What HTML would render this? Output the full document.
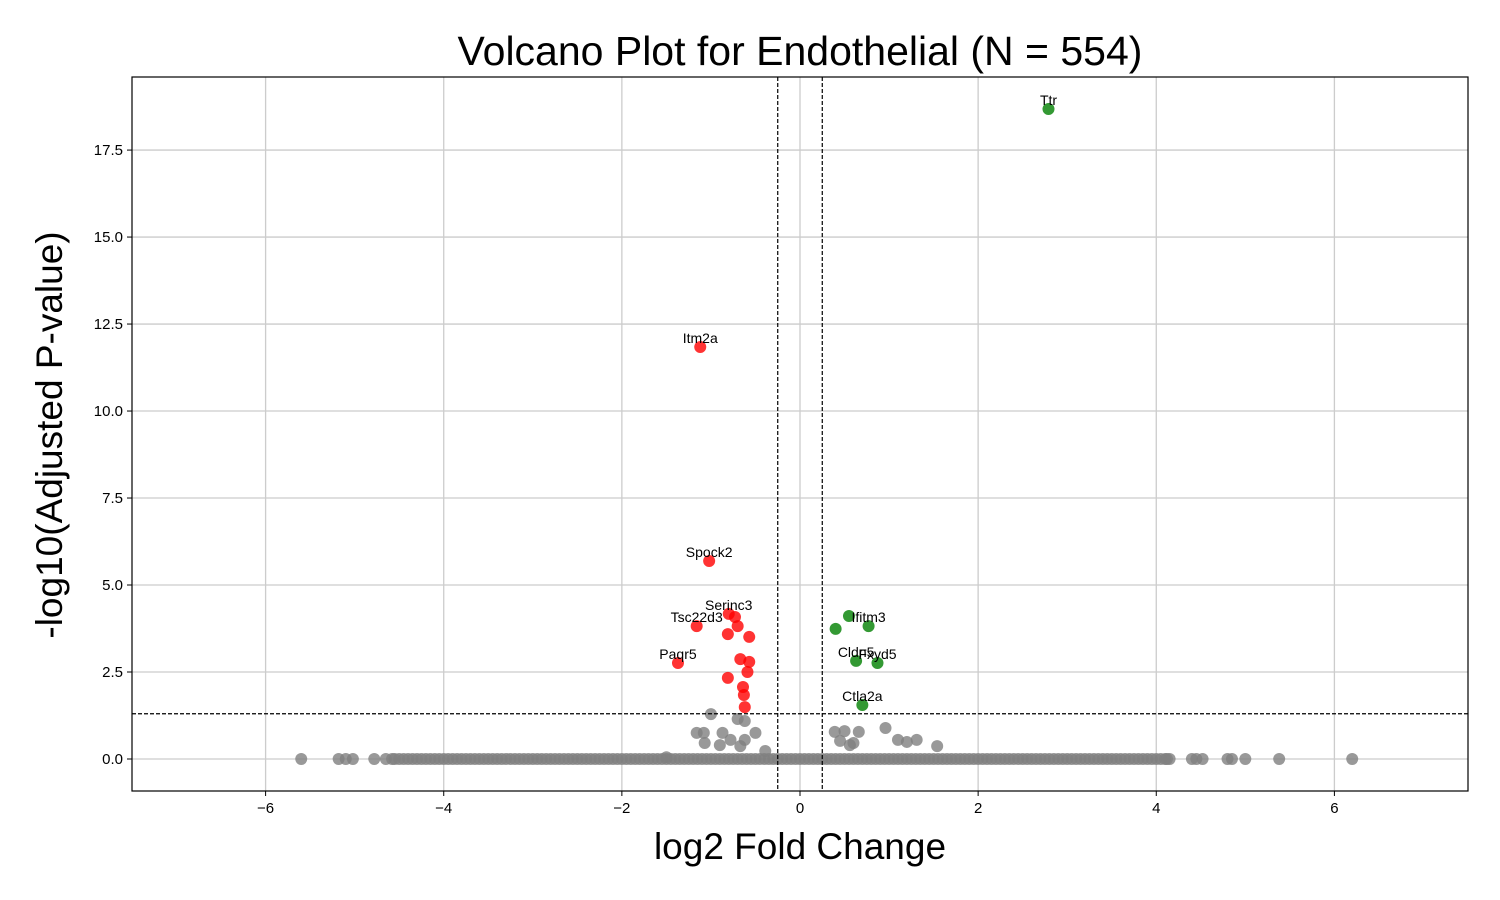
<!DOCTYPE html>
<html><head><meta charset="utf-8"><style>
html,body{margin:0;padding:0;background:#fff;}
svg{display:block;font-family:"Liberation Sans",Arial,sans-serif;}
</style></head><body>
<svg id="chart" width="1500" height="900"></svg>
<script>
const grayX=[-5.6,-5.18,-5.1,-5.02,-4.78,-4.65,-4.58,-4.5,-4.4,-4.3,-4.2,-4.1,-4.0,-3.9,-3.8,-3.7,-3.6,-3.5,-3.4,-3.3,-3.2,-3.1,-3.0,-2.9,-2.8,-2.7,-2.6,-2.5,-2.4,-2.3,-2.2,-2.1,-2.0,-1.9,-1.8,-1.7,-1.6,-1.5,-1.4,-1.3,-1.2,-1.1,-1.0,-0.9,-0.8,-0.7,-0.6,-0.5,-0.4,-0.3,-0.2,-0.1,0.0,0.1,0.2,0.3,0.4,0.5,0.6,0.7,0.8,0.9,1.0,1.1,1.2,1.3,1.4,1.5,1.6,1.7,1.8,1.9,2.0,2.1,2.2,2.3,2.4,2.5,2.6,2.7,2.8,2.9,3.0,3.1,3.2,3.3,3.4,3.5,3.6,3.7,3.8,3.9,4.0,4.1,4.15,4.4,4.45,4.52,4.8,4.85,5.0,5.38,6.2,
-4.55,-4.45,-4.35,-4.25,-4.15,-4.05,-3.95,-3.85,-3.75,-3.65,-3.55,-3.45,-3.35,-3.25,-3.15,-3.05,-2.95,-2.85,-2.75,-2.65,-2.55,-2.45,-2.35,-2.25,-2.15,-2.05,-1.95,-1.85,-1.75,-1.65,-1.55,-1.45,-1.35,-1.25,-1.15,-1.05,-0.95,-0.85,-0.75,-0.65,-0.55,-0.45,-0.35,-0.25,-0.15,-0.05,0.05,0.15,0.25,0.35,0.45,0.55,0.65,0.75,0.85,0.95,1.05,1.15,1.25,1.35,1.45,1.55,1.65,1.75,1.85,1.95,2.05,2.15,2.25,2.35,2.45,2.55,2.65,2.75,2.85,2.95,3.05,3.15,3.25,3.35,3.45,3.55,3.65,3.75,3.85,3.95,4.05,4.12,
-1.0,-0.7,-0.62,-1.16,-1.08,-0.87,-0.5,-1.07,-0.9,-0.67,-0.78,-0.62,0.39,0.5,0.45,0.6,0.66,0.96,1.1,1.2,1.31,1.54,-0.39,-1.5,0.56];
const grayY=[0,0,0,0,0,0,0,0,0,0,0,0,0,0,0,0,0,0,0,0,0,0,0,0,0,0,0,0,0,0,0,0,0,0,0,0,0,0,0,0,0,0,0,0,0,0,0,0,0,0,0,0,0,0,0,0,0,0,0,0,0,0,0,0,0,0,0,0,0,0,0,0,0,0,0,0,0,0,0,0,0,0,0,0,0,0,0,0,0,0,0,0,0,0,0,0,0,0,0,0,0,0,0,
0,0,0,0,0,0,0,0,0,0,0,0,0,0,0,0,0,0,0,0,0,0,0,0,0,0,0,0,0,0,0,0,0,0,0,0,0,0,0,0,0,0,0,0,0,0,0,0,0,0,0,0,0,0,0,0,0,0,0,0,0,0,0,0,0,0,0,0,0,0,0,0,0,0,0,0,0,0,0,0,0,0,0,0,0,0,0,0,
1.29,1.15,1.09,0.75,0.75,0.75,0.75,0.46,0.40,0.37,0.55,0.55,0.78,0.8,0.52,0.46,0.78,0.89,0.55,0.49,0.55,0.37,0.23,0.05,0.4];
const redX=[-1.12,-1.02,-1.16,-1.37,-0.80,-0.73,-0.70,-0.81,-0.57,-0.67,-0.57,-0.59,-0.81,-0.64,-0.63,-0.62];
const redY=[11.84,5.69,3.82,2.76,4.17,4.08,3.82,3.59,3.51,2.87,2.79,2.5,2.33,2.07,1.84,1.49];
const redLabels=["Itm2a","Spock2","Tsc22d3","Paqr5","Serinc3","","","","","","","","","","",""];
const greenX=[2.79,0.55,0.40,0.77,0.63,0.87,0.70];
const greenY=[18.68,4.11,3.74,3.82,2.82,2.76,1.55];
const greenLabels=["Ttr","","","Ifitm3","Cldn5","Fxyd5","Ctla2a"];
const xTicks=[-6,-4,-2,0,2,4,6];
const yTicks=[0,2.5,5,7.5,10,12.5,15,17.5];
const yTickLabels=["0.0","2.5","5.0","7.5","10.0","12.5","15.0","17.5"];

const L=132,R=1468,T=77,B=791, xmin=-7.5,xmax=7.5,ymin=-0.92,ymax=19.6;
const sx=v=>L+(v-xmin)/(xmax-xmin)*(R-L);
const sy=v=>B-(v-ymin)/(ymax-ymin)*(B-T);
const svg=document.getElementById('chart');
const NS='http://www.w3.org/2000/svg';
function mk(tag,attrs,parent){const e=document.createElementNS(NS,tag);for(const k in attrs)e.setAttribute(k,attrs[k]);(parent||svg).appendChild(e);return e;}

xTicks.forEach(t=>{const l=mk('line',{x1:sx(t),x2:sx(t),y1:T,y2:B,stroke:'#cccccc','stroke-width':1.3});

});
yTicks.forEach(t=>{const l=mk('line',{x1:L,x2:R,y1:sy(t),y2:sy(t),stroke:'#cccccc','stroke-width':1.3});

});

function pts(xs,ys,color,name){xs.forEach((x,i)=>{const c=mk('circle',{cx:sx(x),cy:sy(ys[i]),r:6,fill:color,'fill-opacity':0.8});

});}
pts(grayX,grayY,'#808080','gray-point');
pts(redX,redY,'#ff0000','down-point');
pts(greenX,greenY,'#008000','up-point');

[[sx(-0.25),T,sx(-0.25),B],[sx(0.25),T,sx(0.25),B],[L,sy(1.3),R,sy(1.3)]].forEach(a=>{const l=mk('line',{x1:a[0],y1:a[1],x2:a[2],y2:a[3],stroke:'#000','stroke-width':1.2,'stroke-dasharray':'4,2'});

});

function labels(xs,ys,ls){ls.forEach((s,i)=>{if(!s)return;const t=mk('text',{x:sx(xs[i]),y:sy(ys[i])-4,'text-anchor':'middle','font-size':14,fill:'#000'});t.textContent=s;

});}
labels(redX,redY,redLabels);
labels(greenX,greenY,greenLabels);

const f=mk('rect',{x:L,y:T,width:R-L,height:B-T,fill:'none',stroke:'#000','stroke-width':1.2});



xTicks.forEach(t=>{mk('line',{x1:sx(t),x2:sx(t),y1:B,y2:B+5,stroke:'#000'});
const tx=mk('text',{x:sx(t),y:B+22,'text-anchor':'middle','font-size':15});tx.textContent=(t<0?'\u2212'+(-t):t);

});
yTicks.forEach((t,i)=>{mk('line',{x1:L-5,x2:L,y1:sy(t),y2:sy(t),stroke:'#000'});
const tx=mk('text',{x:L-9,y:sy(t)+5,'text-anchor':'end','font-size':15});tx.textContent=yTickLabels[i];

});
</script>
<div style="position:absolute;left:0;top:0;width:1500px;height:900px;pointer-events:none;font-family:'Liberation Sans',Arial,sans-serif;">
<div style="position:absolute;left:800px;top:28px;transform:translateX(-50%);font-size:41px;white-space:nowrap;">Volcano Plot for Endothelial (N = 554)</div>
<div style="position:absolute;left:800px;top:826px;transform:translateX(-50%);font-size:37px;white-space:nowrap;">log2 Fold Change</div>
<div style="position:absolute;left:50px;top:435px;transform:translate(-50%,-50%) rotate(-90deg);font-size:37px;white-space:nowrap;">-log10(Adjusted P-value)</div>
</div>
</body></html>
